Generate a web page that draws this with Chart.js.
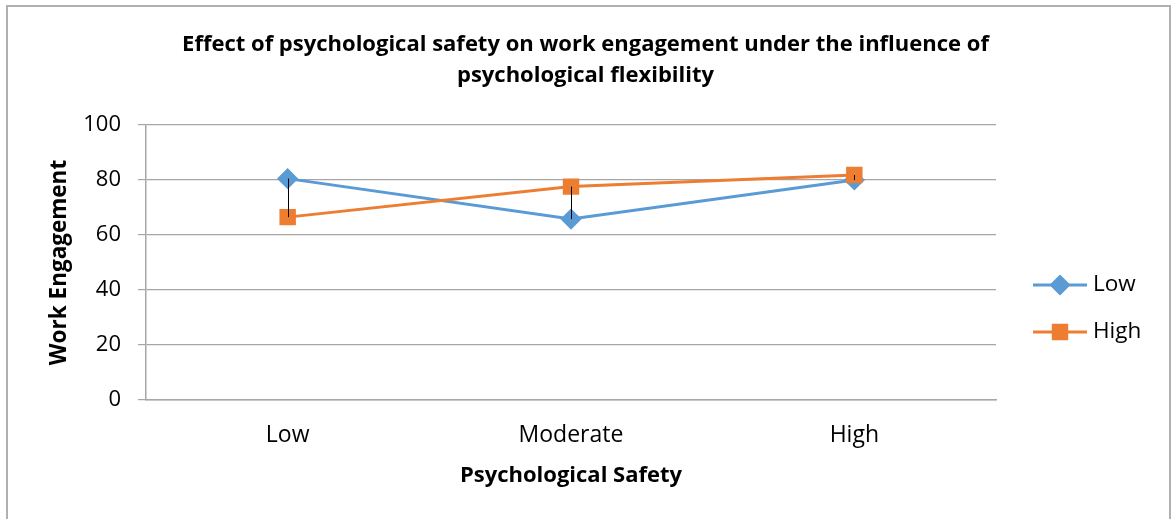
<!DOCTYPE html>
<html>
<head>
<meta charset="utf-8">
<script src="https://cdn.jsdelivr.net/npm/chart.js@4"></script>
<style>
  html, body { margin: 0; padding: 0; background: #fff; }
  #wrap { width: 1171px; height: 519px; }
</style>
</head>
<body>
<div id="wrap"><canvas id="grafico"></canvas></div>
<script>
var categorias = ['Low', 'Moderate', 'High'];
var valoresLow = [80.5, 65.8, 80.0];
var valoresHigh = [66.5, 77.6, 81.8];
var ticksY = [0, 20, 40, 60, 80, 100];
var nomesSeries = ['Low', 'High'];

var corAzul = '#5B9BD5';
var corLaranja = '#ED7D31';
var corGrade = '#a6a6a6';
var fonte = "'Open Sans', 'DejaVu Sans', sans-serif";

// moldura cinza em volta do grafico
var moldura = {
  id: 'moldura',
  beforeDraw: function(chart) {
    var ctx = chart.ctx;
    ctx.save();
    ctx.fillStyle = '#fff';
    ctx.fillRect(0, 0, chart.width, chart.height);
    ctx.strokeStyle = '#b0b0b0';
    ctx.lineWidth = 2;
    ctx.strokeRect(7, 6, chart.width - 8, chart.height + 10);
    ctx.restore();
  }
};

// linhas pretas ligando os dois pontos de cada categoria
var linhasMinMax = {
  id: 'linhasMinMax',
  afterDatasetsDraw: function(chart) {
    var a = chart.getDatasetMeta(0).data;
    var b = chart.getDatasetMeta(1).data;
    var ctx = chart.ctx;
    ctx.save();
    ctx.strokeStyle = '#000';
    ctx.lineWidth = 1;
    for (let i = 0; i < a.length; i++) {
      ctx.beginPath();
      ctx.moveTo(Math.round(a[i].x) + 0.5, a[i].y);
      ctx.lineTo(Math.round(b[i].x) + 0.5, b[i].y);
      ctx.stroke();
    }
    ctx.restore();
  }
};

// legenda no estilo do Excel (linha com marcador)
var legenda = {
  id: 'legenda',
  afterDraw: function(chart) {
    var ctx = chart.ctx;
    var area = chart.chartArea;
    var x0 = area.right + 37;
    var y0 = area.top + 160;
    ctx.save();
    chart.data.datasets.forEach(function(ds, i) {
      var y = y0 + i * 47;
      ctx.strokeStyle = ds.borderColor;
      ctx.lineWidth = 3;
      ctx.beginPath();
      ctx.moveTo(x0, y);
      ctx.lineTo(x0 + 54, y);
      ctx.stroke();
      Chart.helpers.drawPoint(ctx, {
        pointStyle: ds.pointStyle,
        radius: ds.pointRadius,
        borderWidth: 1
      }, x0 + 27, y);
      ctx.fillStyle = ds.pointBackgroundColor;
      ctx.strokeStyle = ds.pointBorderColor;
      ctx.fill();
      ctx.fillStyle = '#000';
      ctx.font = '22.5px ' + fonte;
      ctx.textBaseline = 'middle';
      ctx.textAlign = 'left';
      ctx.fillText(ds.label, x0 + 60, y);
    });
    ctx.restore();
  }
};

new Chart(document.getElementById('grafico'), {
  type: 'line',
  data: {
    labels: categorias,
    datasets: [{
      label: nomesSeries[0],
      data: valoresLow,
      borderColor: corAzul,
      backgroundColor: corAzul,
      pointBackgroundColor: corAzul,
      pointBorderColor: corAzul,
      pointStyle: 'rectRot',
      pointRadius: 8.5,
      pointHoverRadius: 8.5,
      borderWidth: 3,
      tension: 0,
      order: 2
    }, {
      label: nomesSeries[1],
      data: valoresHigh,
      borderColor: corLaranja,
      backgroundColor: corLaranja,
      pointBackgroundColor: corLaranja,
      pointBorderColor: corLaranja,
      pointStyle: 'rect',
      pointRadius: 9.5,
      pointHoverRadius: 9.5,
      borderWidth: 3,
      tension: 0,
      order: 1
    }]
  },
  options: {
    responsive: true,
    maintainAspectRatio: false,
    animation: false,
    layout: { padding: 0 },
    plugins: {
      legend: { display: false },
      tooltip: { enabled: false },
      title: {
        display: true,
        text: ['Effect of psychological safety on work engagement under the influence of', 'psychological flexibility'],
        color: '#000',
        font: { family: fonte, size: 22, weight: 'bold', lineHeight: 31 / 22 },
        padding: { top: 29.5, bottom: 33.5 }
      }
    },
    scales: {
      x: {
        offset: true,
        grid: { display: false, drawTicks: false, tickLength: 0 },
        border: { display: true, color: corGrade, width: 1.5 },
        ticks: { color: '#000', padding: 22, font: { family: fonte, size: 23 } },
        title: {
          display: true,
          text: 'Psychological Safety',
          color: '#000',
          font: { family: fonte, size: 22, weight: 'bold', lineHeight: 1.2 },
          padding: { top: 0, bottom: 30 }
        },
        afterFit: function(s) { s.height = 119; }
      },
      y: {
        min: 0,
        max: 100,
        afterBuildTicks: function(s) {
          s.ticks = ticksY.map(function(v) { return { value: v }; });
        },
        grid: { color: corGrade, lineWidth: 1.2, tickLength: 8 },
        border: { display: true, color: corGrade, width: 1.5 },
        ticks: { color: '#000', padding: 17, font: { family: fonte, size: 22 } },
        title: {
          display: true,
          text: 'Work Engagement',
          color: '#000',
          font: { family: fonte, size: 22.5, weight: 'bold', lineHeight: 1.2 },
          padding: { top: 46, bottom: 0 }
        },
        afterFit: function(s) { s.width = 146; }
      },
      // eixo vazio so para reservar o espaco da legenda a direita
      espaco: {
        type: 'linear',
        position: 'right',
        display: true,
        grid: { display: false },
        border: { display: false },
        ticks: { display: false },
        afterFit: function(s) { s.width = 175; }
      }
    }
  },
  plugins: [moldura, linhasMinMax, legenda]
});
</script>
</body>
</html>
